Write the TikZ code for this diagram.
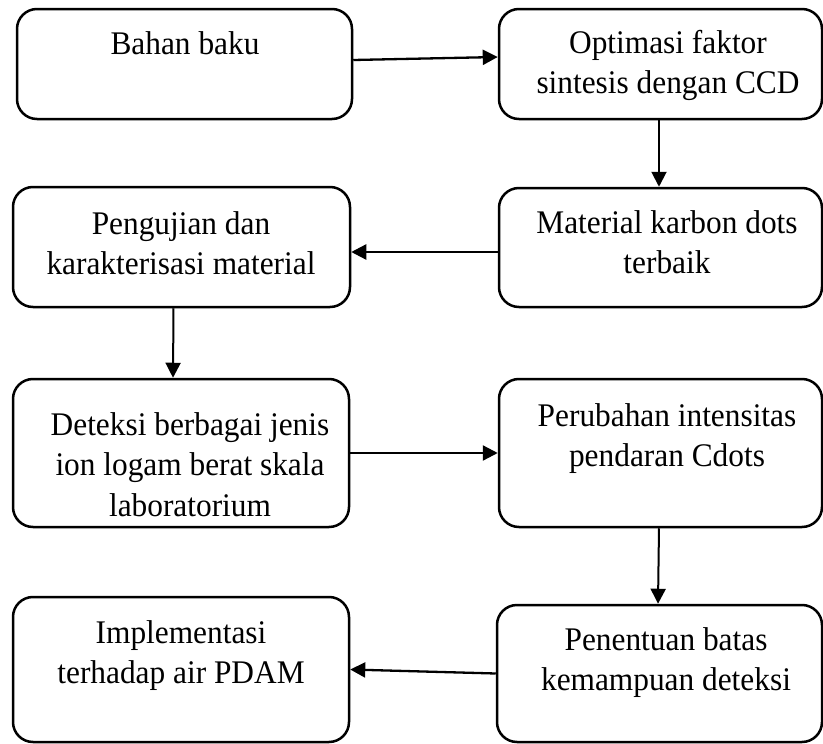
\documentclass[tikz,border=0pt]{standalone}
\usepackage{fontspec}
\setmainfont{Liberation Serif}[FakeStretch=0.95]
\usetikzlibrary{arrows.meta,calc}
\begin{document}
\begin{tikzpicture}[x=1pt,y=-1pt,
  boxnode/.style={draw=black,line width=2.5pt,rounded corners=20pt,inner sep=0pt,fill=none},
  txt/.style={align=center,anchor=north,inner sep=0pt,font=\fontsize{33pt}{40.5pt}\selectfont},
  arr/.style={draw=black,line width=2.3pt,-{Triangle[length=15pt,width=15pt]}},
  varr/.style={draw=black,line width=2pt,-{Triangle[length=15pt,width=15pt]}}]
\useasboundingbox (0,0) rectangle (823,744);
\newcommand{\boxat}[5]{\node[boxnode,minimum width={#4-#2},minimum height={#5-#3}] (#1) at ({(#2+#4)/2},{(#3+#5)/2}) {};}
\newcommand{\firstline}{\rule{0pt}{24pt}}
% boxes
\boxat{b1}{17}{9}{352}{119}
\boxat{b2}{499}{9}{822}{119}
\boxat{b3}{13}{187}{350}{307}
\boxat{b4}{499}{188}{822}{307}
\boxat{b5}{13}{379}{349}{527}
\boxat{b6}{499}{379}{822}{527}
\boxat{b7}{13}{597}{349}{742}
\boxat{b8}{497}{605}{822}{742}
% texts
\node[txt] (t1) at (185,{54-24}) {\firstline Bahan baku};
\node[txt] (t2) at (668,{53-24}) {\firstline Optimasi faktor\\sintesis dengan CCD};
\node[txt] (t3) at (181,{234-24}) {\firstline Pengujian dan\\karakterisasi material};
\node[txt] (t4) at (667,{233-24}) {\firstline Material karbon dots\\terbaik};
\node[txt] (t5) at (190,{435-24}) {\firstline Deteksi berbagai jenis\\ion logam berat skala\\laboratorium};
\node[txt] (t6) at (667,{426-24}) {\firstline Perubahan intensitas\\pendaran Cdots};
\node[txt] (t7) at (181,{643-24}) {\firstline Implementasi\\terhadap air PDAM};
\node[txt] (t8) at (666,{650-24}) {\firstline Penentuan batas\\kemampuan deteksi};
% connectors
\draw[arr] ([yshift=4pt]b1.east) -- ([yshift=7pt]b2.west);
\draw[varr] ([xshift=-1.5pt]b2.south) -- ([xshift=-1.5pt]b4.north);
\draw[arr] ([yshift=-4.5pt]b4.west) -- ([yshift=-5pt]b3.east);
\draw[varr] ([xshift=-8pt]b3.south) -- ([xshift=-8pt]b5.north);
\draw[arr] (b5.east) -- (b6.west);
\draw[varr] ([xshift=-1.5pt]b6.south) -- ([xshift=-1.5pt]b8.north);
\draw[arr] (b8.west) -- (b7.east);
\end{tikzpicture}
\end{document}
